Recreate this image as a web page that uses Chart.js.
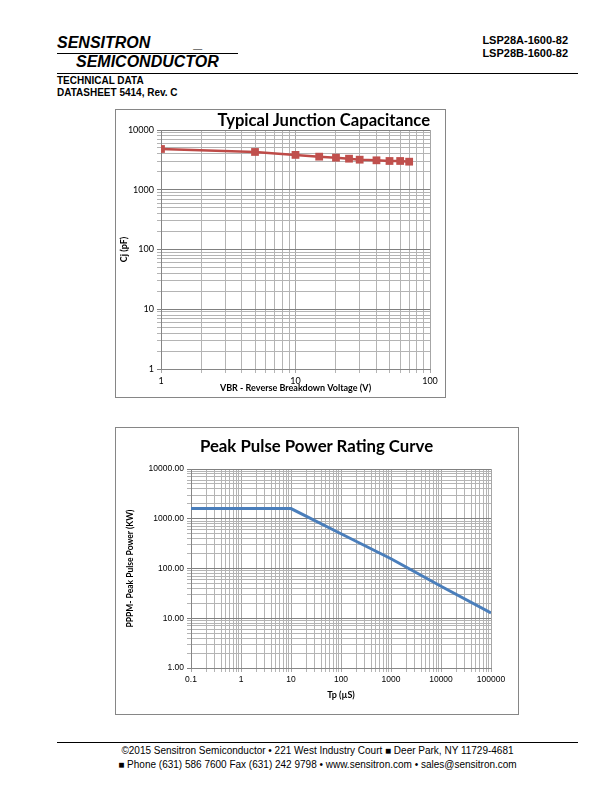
<!DOCTYPE html>
<html>
<head>
<meta charset="utf-8">
<script src="https://cdn.jsdelivr.net/npm/chart.js@4"></script>
<style>
  body { margin: 0; width: 612px; height: 792px; position: relative; background: #fff; font-family: "Liberation Sans", Arial, sans-serif; }
  .abs { position: absolute; white-space: nowrap; }
  .box { position: absolute; box-sizing: border-box; border: 1px solid #868686; }
  .ctitle { position: absolute; font-family: Lato, sans-serif; font-weight: bold; font-size: 17px; line-height: 20px; color: #000; white-space: nowrap; }
</style>
</head>
<body>
<!-- header -->
<div class="abs" style="left:57px;top:34px;width:181px;height:19px;border-bottom:1px solid #000;font:italic bold 16px 'Liberation Sans';">SENSITRON<span style="position:absolute;left:137px;">_</span></div>
<div class="abs" style="left:76px;top:53px;font:italic bold 16px 'Liberation Sans';">SEMICONDUCTOR</div>
<div class="abs" style="left:57px;top:73px;width:521px;border-top:1px solid #000;"></div>
<div class="abs" style="left:57px;top:75px;font:bold 10px 'Liberation Sans';line-height:11.5px;">TECHNICAL DATA<br>DATASHEET 5414, Rev. C</div>
<div class="abs" style="right:44px;top:34px;text-align:right;font:bold 11px 'Liberation Sans';line-height:13px;">LSP28A-1600-82<br>LSP28B-1600-82</div>

<!-- chart 1 -->
<div class="box" style="left:115px;top:109px;width:331px;height:289px;"></div>
<canvas id="capChart" class="abs" width="328" height="286" style="left:116px;top:110px;"></canvas>
<div class="ctitle" style="left:116px;width:314px;top:110px;text-align:right;font-size:16.6px;">Typical Junction Capacitance</div>

<!-- chart 2 -->
<div class="box" style="left:115px;top:427px;width:404px;height:288px;"></div>
<canvas id="pulseChart" class="abs" width="401" height="285" style="left:116px;top:428px;"></canvas>
<div class="ctitle" style="left:116px;width:401px;top:436px;text-align:center;font-size:16.8px;">Peak Pulse Power Rating Curve</div>

<!-- footer -->
<div class="abs" style="left:57px;top:742px;width:521px;border-top:1px solid #000;"></div>
<div class="abs" style="left:57px;width:521px;top:744px;text-align:center;font:10px 'Liberation Sans';line-height:14px;">©2015 Sensitron Semiconductor • 221 West Industry Court ■ Deer Park, NY 11729-4681<br>■ Phone (631) 586 7600 Fax (631) 242 9798 • www.sensitron.com • sales@sensitron.com</div>

<script>
// Typical junction capacitance (pF) vs reverse breakdown voltage (V)
var vbr = [1, 5, 10, 15, 20, 25, 30, 40, 50, 60, 70];
var cj = [4810, 4290, 3830, 3580, 3440, 3310, 3185, 3110, 3030, 3030, 2950];

// Peak pulse power (KW) vs pulse width (uS)
var tp = [0.1, 1, 10, 100, 1000, 10000, 100000];
var pppm = [1600, 1600, 1600, 500, 157, 44, 12.8];

function isPow10(v) {
  var e = Math.log10(v);
  return Math.abs(e - Math.round(e)) < 1e-9;
}

function gridColor(dark) {
  return function (ctx) {
    var v = ctx.tick ? ctx.tick.value : 1;
    var m = v / Math.pow(10, Math.floor(Math.log10(v) + 1e-9));
    if (Math.abs(m - Math.round(m)) > 1e-6) return 'rgba(0,0,0,0)';  // skip 1.5 x 10^n ticks
    if (isPow10(v)) return dark;
    return '#b4b4b4';
  };
}

function logAxis(min, max, fmt, font, dark, fitFn, title) {
  return {
    type: 'logarithmic',
    min: min,
    max: max,
    border: { color: '#868686' },
    grid: { color: gridColor(dark), tickLength: 4, lineWidth: 1 },
    ticks: {
      autoSkip: false,
      maxRotation: 0,
      padding: 3,
      color: '#000',
      font: font,
      callback: function (v) { return isPow10(v) ? fmt(v) : ''; }
    },
    title: title,
    afterFit: fitFn
  };
}

var lato9 = { family: 'Lato', size: 9 };
var arial85 = { family: 'Liberation Sans', size: 8.5 };

new Chart(document.getElementById('capChart').getContext('2d'), {
  type: 'line',
  data: {
    datasets: [{
      data: vbr.map(function (x, i) { return { x: x, y: cj[i] }; }),
      borderColor: '#be4b48',
      backgroundColor: '#c0504d',
      borderWidth: 2.5,
      pointStyle: 'rect',
      pointRadius: 5.5,
      pointBorderWidth: 0,
      tension: 0
    }]
  },
  options: {
    responsive: false,
    animation: false,
    devicePixelRatio: 1,
    layout: { padding: { top: 20, right: 14, left: 0, bottom: 0 } },
    plugins: { legend: { display: false }, tooltip: { enabled: false } },
    scales: {
      x: logAxis(1, 100, function (v) { return String(v); }, lato9, '#a6a6a6',
        function (s) { s.height = 27; },
        { display: true, text: 'VBR - Reverse Breakdown Voltage (V)', color: '#000',
          font: { family: 'Lato', size: 9, weight: 'bold' }, padding: { top: 0, bottom: 2.6 } }),
      y: logAxis(1, 10000, function (v) { return String(v); }, lato9, '#808080',
        function (s) { s.width = 45; },
        { display: true, text: 'Cj (pF)', color: '#000',
          font: { family: 'Lato', size: 9, weight: 'bold' }, padding: { top: 2.6, bottom: 0 } })
    }
  }
});

new Chart(document.getElementById('pulseChart').getContext('2d'), {
  type: 'line',
  data: {
    datasets: [{
      data: tp.map(function (x, i) { return { x: x, y: pppm[i] }; }),
      borderColor: '#4a7ebb',
      borderWidth: 3,
      pointRadius: 0,
      tension: 0
    }]
  },
  options: {
    responsive: false,
    animation: false,
    devicePixelRatio: 1,
    layout: { padding: { top: 41, right: 26, left: 0, bottom: 0 } },
    plugins: { legend: { display: false }, tooltip: { enabled: false } },
    scales: {
      x: logAxis(0.1, 100000, function (v) { return String(Number(v.toPrecision(6))); }, arial85, '#a6a6a6',
        function (s) { s.height = 45; },
        { display: true, text: 'Tp (µS)', color: '#000',
          font: { family: 'Lato', size: 9, weight: 'bold' }, padding: { top: 0, bottom: 13 } }),
      y: logAxis(1, 10000, function (v) { return v.toFixed(2); }, arial85, '#808080',
        function (s) { s.width = 75; },
        { display: true, text: 'PPPM- Peak Pulse Power (KW)', color: '#000',
          font: { family: 'Lato', size: 8.5, weight: 'bold' }, padding: { top: 9, bottom: 0 } })
    }
  }
});
</script>
</body>
</html>
